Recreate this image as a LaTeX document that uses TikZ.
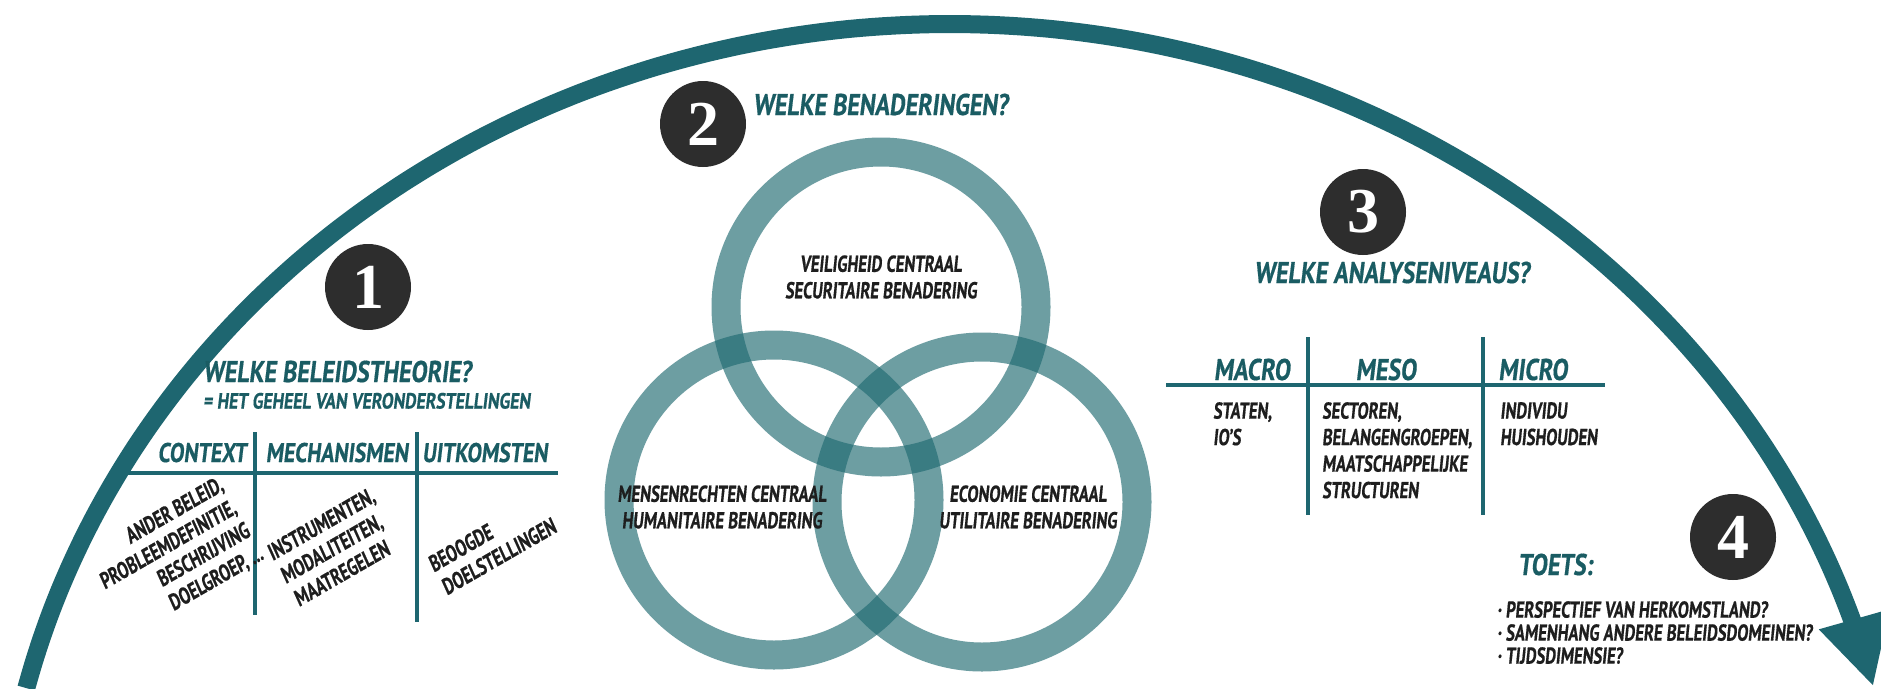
\documentclass[tikz,border=0pt]{standalone}
\usepackage{fontspec}
\usetikzlibrary{positioning,arrows.meta}
\newfontfamily\hand{PT Sans}[FakeStretch=0.72,FakeSlant=0.1,FakeBold=0.5]
\newfontfamily\headfont{PT Sans}[FakeStretch=0.8,FakeSlant=0.12,FakeBold=0.5]
\newfontfamily\numfont{Liberation Serif}
\definecolor{petrol}{RGB}{30,102,112}
\definecolor{headc}{RGB}{26,92,99}
\definecolor{ringc}{RGB}{32,106,113}
\definecolor{ink}{RGB}{30,30,30}
\definecolor{badgec}{RGB}{45,45,45}

\begin{document}
\begin{tikzpicture}[x=1pt,y=-1pt,
    badge/.style={circle,fill=badgec,minimum size=86pt,inner sep=0pt,text=white,
      font=\numfont\bfseries\fontsize{64}{64}\selectfont},
    head/.style={inner sep=0pt,text=headc,font=\headfont\bfseries\fontsize{30}{32}\selectfont},
    colhead/.style={head,font=\headfont\bfseries\fontsize{27}{30}\selectfont},
    note/.style={head,font=\headfont\bfseries\fontsize{22}{24}\selectfont},
    small/.style={inner sep=0pt,text=ink,font=\hand\bfseries\fontsize{23}{26.5}\selectfont},
    ring/.style={circle,draw=ringc,draw opacity=0.65,line width=29pt,minimum size=310pt,inner sep=0pt},
    rule/.style={draw=petrol,line width=4.5pt},
    flow/.style={draw=petrol,line width=18pt,-{Triangle[width=68pt,length=70pt]}}]
    \useasboundingbox[fill=white] (0,0) rectangle (1881,688);

    \node[small,font=\hand\bfseries\fontsize{23}{23}\selectfont,align=left,anchor=north west] (checks) at (1497,601)
      {· PERSPECTIEF VAN HERKOMSTLAND?\\· SAMENHANG ANDERE BELEIDSDOMEINEN?\\· TIJDSDIMENSIE?};
    \draw[flow] plot[domain=194:345.9,samples=90,smooth] ({950+952*cos(\x)},{900+876*sin(\x)}); %

    \node[ring] (sec) at (881,307) {};
    \node[ring] (hum) at (774,500) {};
    \node[ring] (eco) at (982,502) {};
    \node[small,align=center] (sectxt) at (881,277) {VEILIGHEID CENTRAAL\\SECURITAIRE BENADERING};
    \node[small,align=center] (humtxt) at (722,507) {MENSENRECHTEN CENTRAAL\\HUMANITAIRE BENADERING};
    \node[small,align=center] (ecotxt) at (1028,507) {ECONOMIE CENTRAAL\\UTILITAIRE BENADERING};

    \node[badge] (one) at (368,287) {1};
    \node[badge] (two) at (703,124) {2};
    \node[badge] (three) at (1363,212) {3};
    \node[badge] (four) at (1733,537) {4};

    \node[head,anchor=base west] (theory) at (203,382) {WELKE BELEIDSTHEORIE?};
    \node[note,below=10pt of theory.south west,anchor=north west] (whole) {= HET GEHEEL VAN VERONDERSTELLINGEN};
    \node[head,anchor=base west] (approach) at (753,115) {WELKE BENADERINGEN?};
    \node[head,anchor=base] (levels) at (1392,283) {WELKE ANALYSENIVEAUS?};
    \node[head,anchor=base west] (toets) at (1518,575) {TOETS:};

    \node[colhead,anchor=base] (ctx) at (202,462) {CONTEXT};
    \node[colhead,anchor=base] (mech) at (337,462) {MECHANISMEN};
    \node[colhead,anchor=base] (outc) at (485,462) {UITKOMSTEN};
    \draw[rule] (120,473) -- (558,473);
    \draw[rule] (255,432) -- (255,615);
    \draw[rule] (417,432) -- (417,622);
    \node[small,rotate=30,align=right] (ctxtxt) at (175,557) {ANDER BELEID,\\PROBLEEMDEFINITIE,\\BESCHRIJVING\\DOELGROEP, ...};
    \node[small,rotate=30,align=left] (mechtxt) at (334,547) {INSTRUMENTEN,\\MODALITEITEN,\\MAATREGELEN};
    \node[small,rotate=30,align=left] (outctxt) at (492,545) {BEOOGDE\\DOELSTELLINGEN};

    \node[head,anchor=base] (macro) at (1252,380) {MACRO};
    \node[head,anchor=base] (meso) at (1386,380) {MESO};
    \node[head,anchor=base] (micro) at (1533,380) {MICRO};
    \draw[rule] (1166,385) -- (1605,385);
    \draw[rule] (1308,337) -- (1308,515);
    \draw[rule] (1483,337) -- (1483,515);
    \node[small,align=left,anchor=north west] (macrotxt) at (1213,402) {STATEN,\\IO’S};
    \node[small,align=left,anchor=north west] (mesotxt) at (1322,402) {SECTOREN,\\BELANGENGROEPEN,\\MAATSCHAPPELIJKE\\STRUCTUREN};
    \node[small,align=left,anchor=north west] (microtxt) at (1500,402) {INDIVIDU\\HUISHOUDEN};
\end{tikzpicture}
\end{document}
